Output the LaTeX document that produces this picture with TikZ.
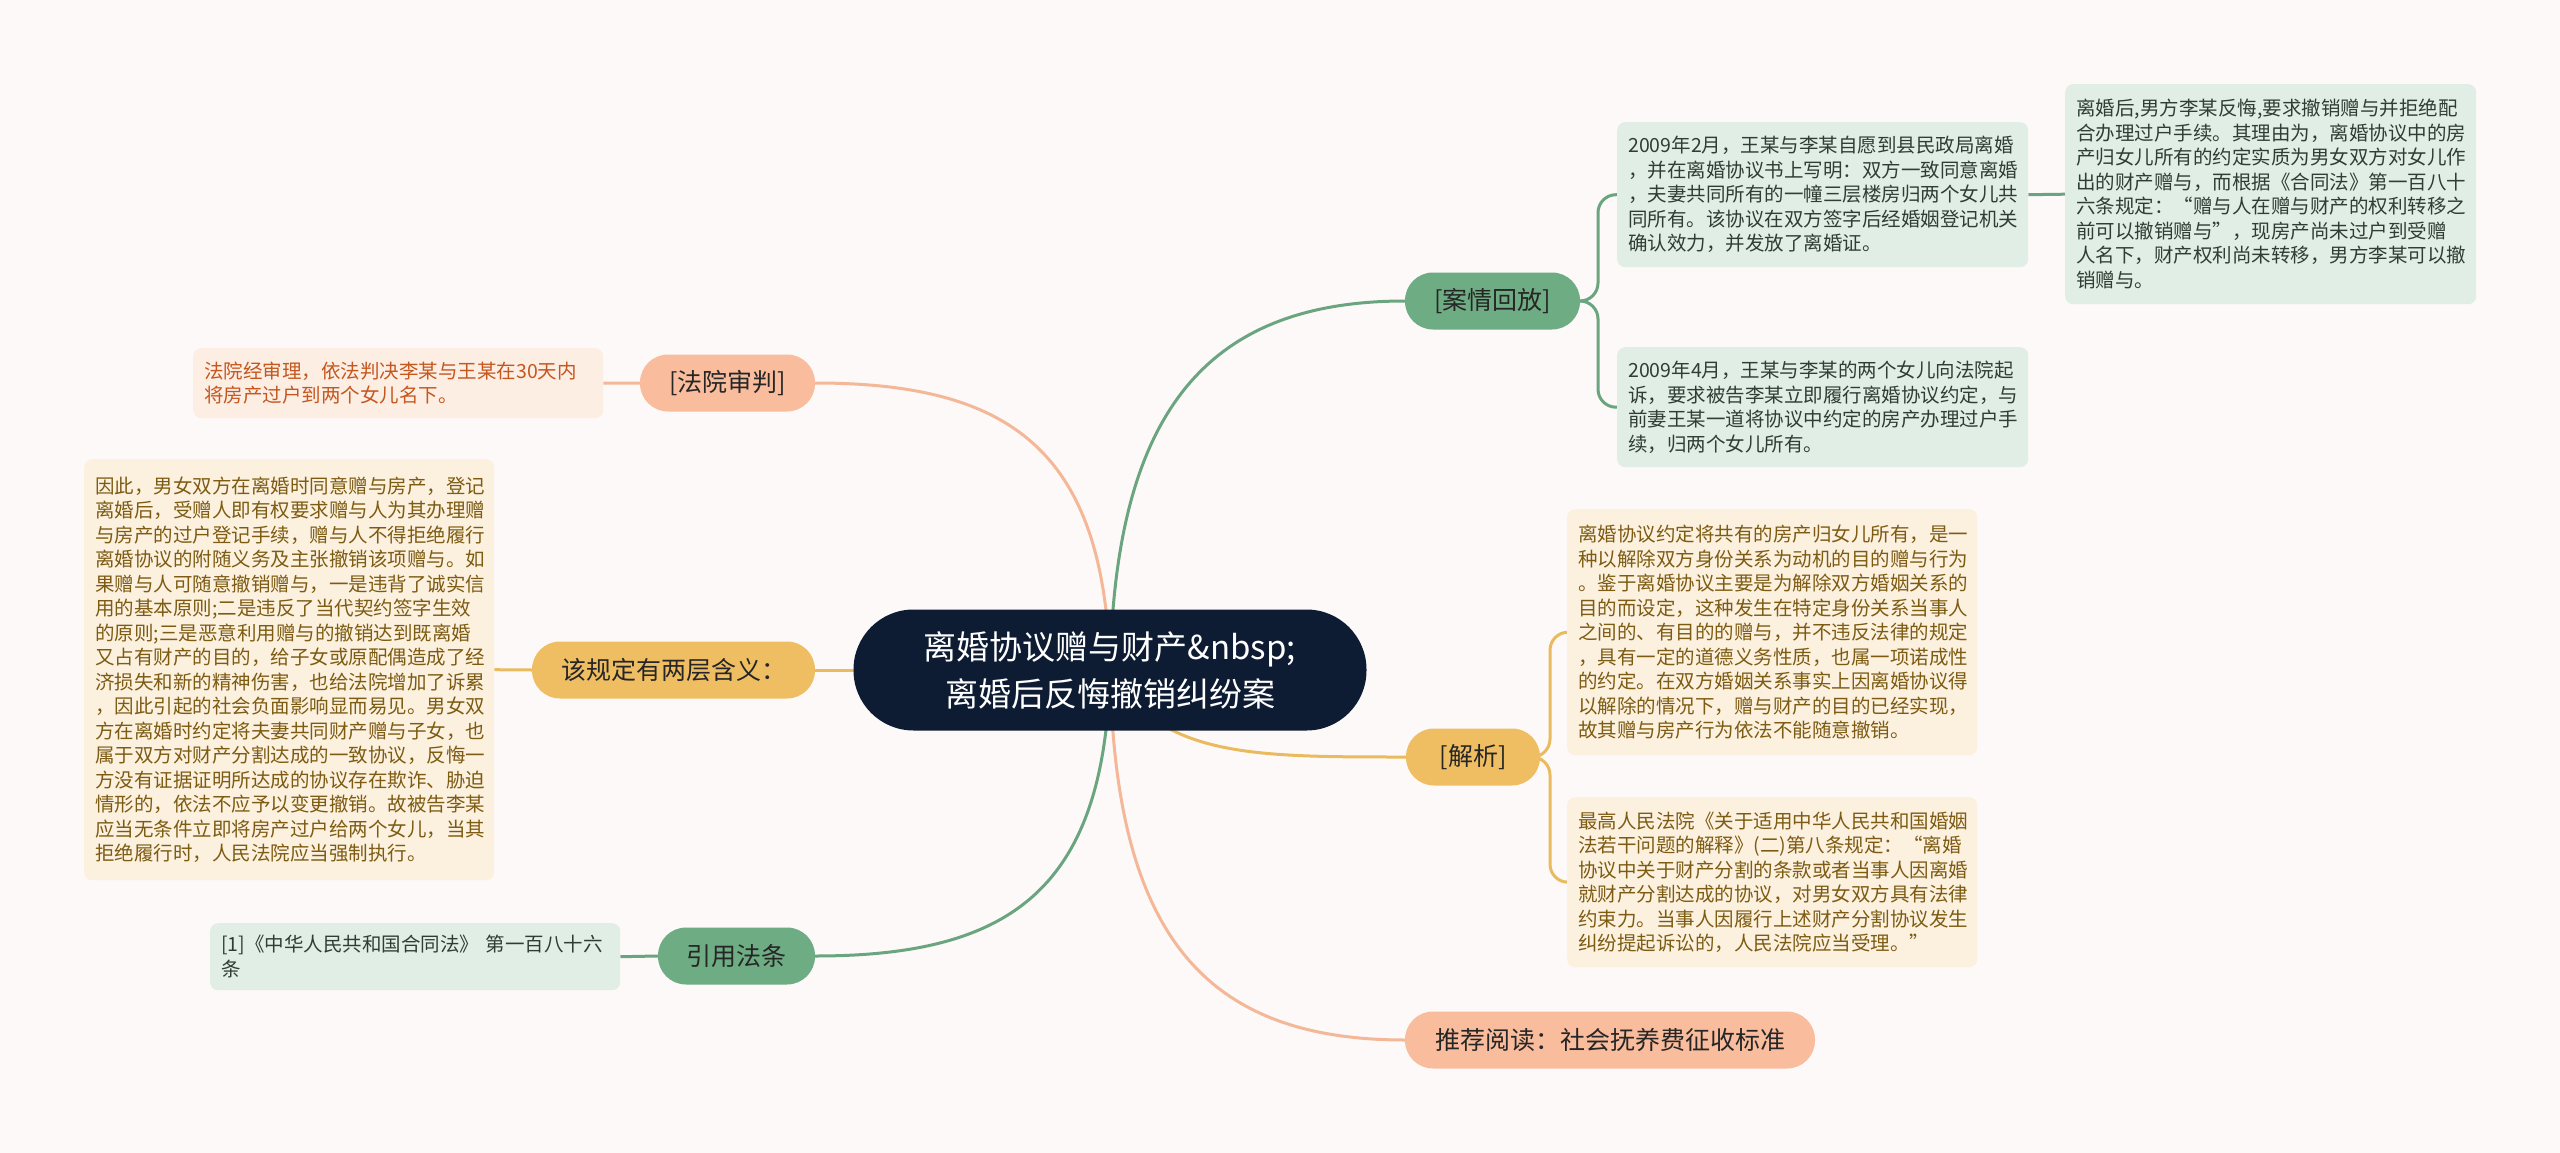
\documentclass[tikz,border=0pt]{standalone}
\usepackage{fontspec}
\setmainfont{Noto Sans CJK SC}
\usetikzlibrary{backgrounds}
\definecolor{bgcol}{HTML}{FCF9F8}
\definecolor{rootcol}{HTML}{0E1C33}
\definecolor{gtopic}{HTML}{6EAC84}
\definecolor{gchild}{HTML}{E1EEE6}
\definecolor{gline}{HTML}{6AA580}
\definecolor{gtext}{HTML}{2F3D33}
\definecolor{ytopic}{HTML}{F0BE62}
\definecolor{ychild}{HTML}{FCF1DF}
\definecolor{yline}{HTML}{E9BB5E}
\definecolor{ytext}{HTML}{7D5B12}
\definecolor{stopic}{HTML}{F9BC9C}
\definecolor{schild}{HTML}{FDEEE4}
\definecolor{sline}{HTML}{F4B797}
\definecolor{stext}{HTML}{C4561E}
\definecolor{toptext}{HTML}{262626}
\tikzset{
  root/.style={fill=rootcol, text=white, rounded corners=60pt, minimum width=513pt,
    minimum height=121pt, align=center, inner sep=0pt, font=\fontsize{33}{47}\selectfont},
  topic/.style={rounded corners=28pt, minimum height=57pt, inner sep=0pt, text=toptext,
    font=\fontsize{25}{30}\selectfont},
  gtop/.style={topic, fill=gtopic},
  ytop/.style={topic, fill=ytopic},
  stop/.style={topic, fill=stopic},
  cbox/.style={rounded corners=8pt, inner xsep=11pt, inner ysep=0pt, align=left,
    anchor=north west, font=\fontsize{19.5}{24.5}\selectfont},
  gbox/.style={cbox, fill=gchild, text=gtext},
  ybox/.style={cbox, fill=ychild, text=ytext},
  sbox/.style={cbox, fill=schild, text=stext},
  gedge/.style={draw=gline, line width=3pt},
  yedge/.style={draw=yline, line width=3pt},
  sedge/.style={draw=sline, line width=3pt},
}
\begin{document}
\begin{tikzpicture}[x=1pt,y=-1pt]
\useasboundingbox (0,0) rectangle (2560,1153);
% root
\node[root] (C) at (1110,670) {离婚协议赠与财产\&nbsp;\\离婚后反悔撤销纠纷案};
% topics
\node[gtop, minimum width=175pt] (t1) at (1492.5,301) {[案情回放]};
\node[ytop, minimum width=134pt] (t2) at (1473,757) {[解析]};
\node[stop, minimum width=175pt] (t3) at (727.5,383) {[法院审判]};
\node[ytop, minimum width=283pt] (t4) at (673.5,670) {该规定有两层含义：};
\node[gtop, minimum width=157pt] (t5) at (736.5,956) {引用法条};
\node[stop, minimum width=410pt] (t6) at (1610,1040) {推荐阅读：社会抚养费征收标准};
% children
\node[gbox, text width=389pt, minimum height=145pt] (c1) at (1617,122) {2009年2月，王某与李某自愿到县民政局离婚\\，并在离婚协议书上写明：双方一致同意离婚\\，夫妻共同所有的一幢三层楼房归两个女儿共\\同所有。该协议在双方签字后经婚姻登记机关\\确认效力，并发放了离婚证。};
\node[gbox, text width=389pt, minimum height=220pt] (gc) at (2065,84) {离婚后,男方李某反悔,要求撤销赠与并拒绝配\\合办理过户手续。其理由为，离婚协议中的房\\产归女儿所有的约定实质为男女双方对女儿作\\出的财产赠与，而根据《合同法》第一百八十\\六条规定：“赠与人在赠与财产的权利转移之\\前可以撤销赠与”，现房产尚未过户到受赠\\人名下，财产权利尚未转移，男方李某可以撤\\销赠与。};
\node[gbox, text width=389pt, minimum height=120pt] (c2) at (1617,347) {2009年4月，王某与李某的两个女儿向法院起\\诉，要求被告李某立即履行离婚协议约定，与\\前妻王某一道将协议中约定的房产办理过户手\\续，归两个女儿所有。};
\node[ybox, text width=388pt, minimum height=246pt] (jA) at (1567,509) {离婚协议约定将共有的房产归女儿所有，是一\\种以解除双方身份关系为动机的目的赠与行为\\。鉴于离婚协议主要是为解除双方婚姻关系的\\目的而设定，这种发生在特定身份关系当事人\\之间的、有目的的赠与，并不违反法律的规定\\，具有一定的道德义务性质，也属一项诺成性\\的约定。在双方婚姻关系事实上因离婚协议得\\以解除的情况下，赠与财产的目的已经实现，\\故其赠与房产行为依法不能随意撤销。};
\node[ybox, text width=388pt, minimum height=170pt] (jB) at (1567,797) {最高人民法院《关于适用中华人民共和国婚姻\\法若干问题的解释》(二)第八条规定：“离婚\\协议中关于财产分割的条款或者当事人因离婚\\就财产分割达成的协议，对男女双方具有法律\\约束力。当事人因履行上述财产分割协议发生\\纠纷提起诉讼的，人民法院应当受理。”};
\node[sbox, text width=388pt, minimum height=70pt] (f1) at (193,348) {法院经审理，依法判决李某与王某在30天内\\将房产过户到两个女儿名下。};
\node[ybox, text width=388pt, minimum height=421pt] (g1) at (84,459) {因此，男女双方在离婚时同意赠与房产，登记\\离婚后，受赠人即有权要求赠与人为其办理赠\\与房产的过户登记手续，赠与人不得拒绝履行\\离婚协议的附随义务及主张撤销该项赠与。如\\果赠与人可随意撤销赠与，一是违背了诚实信\\用的基本原则;二是违反了当代契约签字生效\\的原则;三是恶意利用赠与的撤销达到既离婚\\又占有财产的目的，给子女或原配偶造成了经\\济损失和新的精神伤害，也给法院增加了诉累\\，因此引起的社会负面影响显而易见。男女双\\方在离婚时约定将夫妻共同财产赠与子女，也\\属于双方对财产分割达成的一致协议，反悔一\\方没有证据证明所达成的协议存在欺诈、胁迫\\情形的，依法不应予以变更撤销。故被告李某\\应当无条件立即将房产过户给两个女儿，当其\\拒绝履行时，人民法院应当强制执行。};
\node[gbox, text width=388pt, minimum height=67pt] (r1) at (210,923) {[1]《中华人民共和国合同法》 第一百八十六\\条};
% background and connectors
\begin{scope}[on background layer]
\fill[bgcol] (0,0) rectangle (2560,1153);
\draw[gedge] (C.center) .. controls (1115,420) and (1200,301) .. (t1.west);
\draw[yedge] (C.center) .. controls (1160,757) and (1250,757) .. (t2.west);
\draw[sedge] (C.center) .. controls (1115,930) and (1200,1040) .. (t6.west);
\draw[sedge] (C.center) .. controls (1105,450) and (1010,383) .. (t3.east);
\draw[yedge] (C.center) -- (t4.east);
\draw[gedge] (C.center) .. controls (1105,890) and (1010,956) .. (t5.east);
\draw[gedge, rounded corners=18pt] (t1.east) -- (1598,301) |- (c1.west);
\draw[gedge, rounded corners=18pt] (t1.east) -- (1598,301) |- (c2.west);
\draw[gedge] (c1.east) -- (gc.west);
\draw[yedge, rounded corners=18pt] (t2.east) -- (1550,757) |- (jA.west);
\draw[yedge, rounded corners=18pt] (t2.east) -- (1550,757) |- (jB.west);
\draw[sedge] (t3.west) -- (f1.east);
\draw[yedge] (t4.west) -- (g1.east);
\draw[gedge] (t5.west) -- (r1.east);
\end{scope}
\end{tikzpicture}
\end{document}
